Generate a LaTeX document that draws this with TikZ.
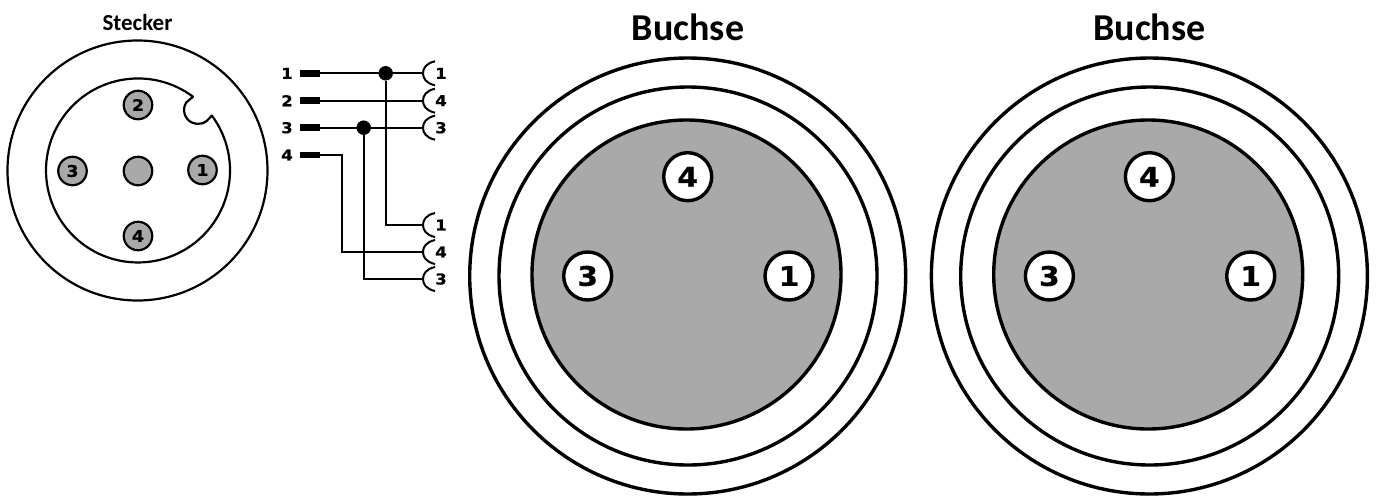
\documentclass[tikz,border=0pt]{standalone}
\usepackage{fontspec}
\setmainfont{Carlito}
\newfontfamily\digitfont{DejaVu Sans}[BoldFont={DejaVu Sans Bold},BoldFeatures={FakeBold=0.6,FakeStretch=1.1}]
\definecolor{pingray}{HTML}{A9A9A9}
\tikzset{
  title/.style={font=\bfseries\fontsize{#1}{#1}\selectfont,inner sep=0pt,anchor=base},
  ring/.style={draw=black,line width=3.4pt},
  smallpin/.style={circle,draw=black,line width=2.2pt,fill=pingray,inner sep=0pt,minimum size=28.5pt,font=\digitfont\bfseries\fontsize{16}{16}\selectfont},
  bigpin/.style={circle,draw=black,line width=3.4pt,fill=white,inner sep=0pt,minimum size=48pt,font=\digitfont\bfseries\fontsize{27}{27}\selectfont},
  shell/.style={draw=black,line width=2.2pt},
  wire/.style={draw=black,line width=2pt},
  plug/.style={rectangle,fill=black,inner sep=0pt,minimum width=20pt,minimum height=6.5pt},
  joint/.style={circle,fill=black,inner sep=0pt,minimum size=14.5pt},
  cup/.style={draw=black,line width=2pt},
  wirenum/.style={inner sep=0pt,font=\digitfont\bfseries\fontsize{15}{15}\selectfont},
}
\begin{document}
\begin{tikzpicture}[x=1pt,y=-1pt]
\useasboundingbox (0,0) rectangle (1376,496);
% Stecker
\node[title=23] (tStecker) at (137.5,30) {Stecker};
\draw[shell] (137.5,170.5) circle (130);
\draw[shell,line join=round] (193,96.7) arc[start angle=-53.3,end angle=-396.6,radius=92]
  -- (207,120.7) arc[start angle=50,end angle=212,radius=14] -- cycle;
\node[smallpin] (s2) at (138,105) {2};
\node[smallpin] (s3) at (72.5,171) {3};
\node[smallpin] (s0) at (138,171) {};
\node[smallpin] (s1) at (202.5,170) {1};
\node[smallpin] (s4) at (138,236) {4};
% Wiring
\foreach \n/\y in {1/73.3,2/100.7,3/127.7,4/155}{
  \node[plug] (p\n) at (310,\y) {};
  \node[wirenum] (pl\n) at (287,\y) {\n};
}
\foreach \k/\n/\y in {a/1/73.3,b/4/100.7,c/3/127.7,d/1/225,e/4/252,f/3/279}{
  \coordinate (c\k) at (423,\y);
  \draw[cup] (435,\y-12) .. controls (426,\y-10) and (423,\y-5) .. (c\k) .. controls (423,\y+5) and (426,\y+10) .. (435,\y+12);
  \node[wirenum] (cl\k) at (441,\y) {\n};
}
\node[joint] (j1) at (385.7,73.3) {};
\node[joint] (j3) at (363.7,127.7) {};
\coordinate (k4) at (342.3,155);
\draw[wire] (p1) -- (ca);
\draw[wire] (p2) -- (cb);
\draw[wire] (p3) -- (cc);
\draw[wire] (j1) |- (cd);
\draw[wire] (j3) |- (cf);
\draw[wire] (p4) -- (k4) |- (ce);
% Buchse 1
\node[title=38] (tB1) at (688,40) {Buchse};
\draw[ring] (687.7,276) circle (218);
\draw[ring] (688,276) circle (189);
\draw[ring,fill=pingray] (686.5,274.5) circle (154.5);
\node[bigpin] (a4) at (687.7,176.7) {4};
\node[bigpin] (a3) at (587.7,276) {3};
\node[bigpin] (a1) at (789,276) {1};
% Buchse 2
\node[title=38] (tB2) at (1149.5,40) {Buchse};
\draw[ring] (1149.4,276) circle (218);
\draw[ring] (1149.7,276) circle (189);
\draw[ring,fill=pingray] (1148.2,274.5) circle (154.5);
\node[bigpin] (b4) at (1149.4,176.7) {4};
\node[bigpin] (b3) at (1049.4,276) {3};
\node[bigpin] (b1) at (1250.7,276) {1};
\end{tikzpicture}
\end{document}
